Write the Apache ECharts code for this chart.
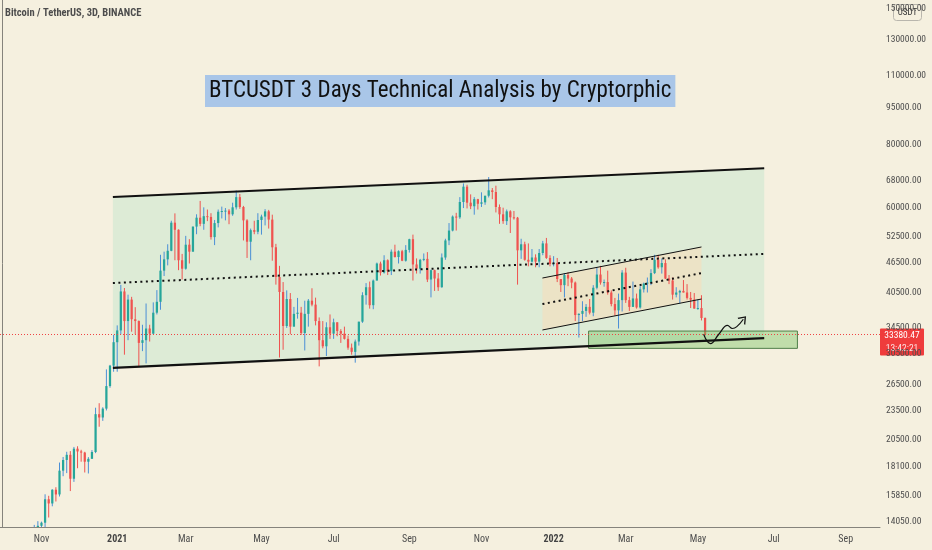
<!DOCTYPE html>
<html>
<head>
<meta charset="utf-8">
<title>BTCUSDT 3D</title>
<script src="https://cdn.jsdelivr.net/npm/echarts@6/dist/echarts.min.js"></script>
<style>
html,body{margin:0;padding:0;background:#f5f0df;}
#chart{width:932px;height:550px;}
</style>
</head>
<body>
<div id="chart"></div>
<script>
var FONT = "'Roboto Condensed','Liberation Sans Narrow','DejaVu Sans Condensed','Noto Sans Condensed',Roboto,sans-serif";

// 3 day bars, first slot of the axis starts 2020-09-29
var barStart = Date.UTC(2020, 8, 29);
var barCount = 244;
var firstCandle = 8;   // slot of the first row of ohlc
// [open, close, low, high]
var ohlc = [
	[12980,13030,12700,13350],[13030,13270,12800,13860],[13270,13800,12980,14100],[13800,14000,13200,14070],
	[14000,15600,13530,15960],[15600,15300,14340,15850],[15300,16300,15100,16340],[16300,15950,15440,16490],
	[15950,17800,15800,18480],[17800,18700,17350,18960],[18700,19150,17600,19420],[19150,17150,16200,19480],
	[17150,19700,16900,19860],[19700,19450,18000,19920],[19450,19350,18550,19600],[19350,18550,17650,19420],
	[18550,18800,17570,18950],[18800,19400,18800,19570],[19400,23100,19300,23800],[23100,22750,21800,24300],
	[22750,23700,22400,23850],[23700,26300,23500,28400],[26300,28900,26100,29000],[28900,32200,28100,33300],
	[32200,34000,28100,34800],[34000,40700,33400,41950],[40700,35500,30400,41350],[35500,39200,32500,40100],
	[39200,35800,33800,39700],[35800,35500,33400,37850],[35500,32100,28850,35600],[32100,32500,30900,34900],
	[32500,34300,29200,38500],[34300,33500,32300,34900],[33500,36900,33400,38700],[36900,38800,36600,40950],
	[38800,44800,37400,48200],[44800,47200,43700,48900],[47200,49100,45900,50600],[49100,55900,49000,56400],
	[55900,54100,47000,58350],[54100,47000,44900,54200],[47000,45200,43000,48400],[45200,50500,45000,52600],
	[50500,48900,46300,51800],[48900,54900,48900,54900],[54900,57200,53000,58100],[57200,55600,55000,61800],
	[55600,57600,54100,60000],[57600,57400,56300,59400],[57400,52300,51700,58400],[52300,55800,50400,56600],
	[55800,58800,54700,59400],[58800,59000,57000,60200],[59000,59100,56500,59800],[59100,58100,55500,59500],
	[58100,60000,57700,61300],[60000,62900,59400,64850],[62900,60100,59600,63800],[60100,56500,51500,60400],
	[56500,51200,47500,56800],[51200,54000,47000,54400],[54000,53600,53000,56400],[53600,56600,53000,58400],
	[56600,57500,52900,58000],[57500,58900,55200,59500],[58900,56700,54400,59300],[56700,49900,46900,58000],
	[49900,43500,42000,50700],[43500,40600,30000,45800],[40600,34700,31100,42500],[34700,39300,34400,40900],
	[39300,34600,33400,40400],[34600,36700,34600,37900],[36700,36900,35900,39500],[36900,33600,33300,37900],
	[33600,36700,31000,39000],[36700,39000,34600,39300],[39000,38300,38000,41300],[38300,35500,34800,39550],
	[35500,32500,28800,36100],[32500,31600,31300,35500],[31600,34500,30200,35300],[34500,33500,32700,36600],
	[33500,35300,32700,35900],[35300,33900,33100,35300],[33900,33500,32100,34200],[33500,32700,32600,34600],
	[32700,31400,31100,33200],[31400,30800,30400,32000],[30800,32300,29300,32600],[32300,35400,31700,35400],
	[35400,40000,35200,40550],[40000,41500,38300,42300],[41500,38200,37600,42600],[38200,42800,37500,43000],
	[42800,46300,42800,46500],[46300,44400,43800,46700],[44400,47000,44200,48100],[47000,44700,43900,47200],
	[44700,48900,43900,49400],[48900,47700,47600,50500],[47700,49000,46300,49200],[49000,46900,46800,49300],
	[46900,49300,46700,50400],[49300,51800,48700,51900],[51800,46100,42800,52900],[46100,45200,44200,47400],
	[45200,47100,44200,47300],[47100,47300,46800,48500],[47300,43000,42500,48800],[43000,44900,39600,45000],
	[44900,43200,40800,45000],[43200,41500,40800,44300],[41500,47600,41400,48500],[47600,51500,47100,51900],
	[51500,53900,50400,55800],[53900,57500,53700,57800],[57500,57300,53900,58500],[57300,61500,56900,62900],
	[61500,66000,59800,67000],[66000,61300,59700,66600],[61300,60300,59500,63700],[60300,62300,58000,62900],
	[62300,61000,59400,62400],[61000,61400,60100,64300],[61400,63300,60700,63300],[63300,64900,62800,69000],
	[64900,64400,62300,65600],[64400,60100,58600,66300],[60100,58100,55600,60800],[58100,56300,55600,59900],
	[56300,58900,55300,59400],[58900,57300,53300,59200],[57300,57200,56700,59000],[57200,49200,42000,57400],
	[49200,50600,47300,51900],[50600,47100,46900,51200],[47100,46700,45700,50800],[46700,47600,46500,49500],
	[47600,46700,45500,48300],[46700,48600,45500,49500],[48600,50800,48100,51400],[50800,47500,47300,52100],
	[47500,46200,45700,48100],[46200,46400,45700,47900],[46400,43100,42500,47500],[43100,41900,40600,43100],
	[41900,43900,39600,44300],[43900,43200,41700,44500],[43200,42400,41300,43500],[42400,36500,35500,42600],
	[36500,36700,32900,36800],[36700,37200,35500,38900],[37200,37900,36200,38400],[37900,36900,36600,39300],
	[36900,41400,36300,41900],[41400,44000,41100,45500],[44000,42400,42000,45800],[42400,42500,41600,43000],
	[42500,40500,40100,44800],[40500,38400,38000,40900],[38400,37300,36400,39500],[37300,39100,34300,40300],
	[39100,44400,37100,44900],[44400,39100,38600,45400],[39100,37900,37200,39700],[37900,39400,37900,42600],
	[39400,37800,37600,40300],[37800,41100,37600,41700],[41100,42200,40500,42400],[42200,42400,40500,43400],
	[42400,44300,41900,45100],[44300,47100,44100,48200],[47100,45500,45200,48200],[45500,46400,44200,47400],
	[46400,43200,43100,47200],[43200,42800,42100,43900],[42800,40100,39200,43400],[40100,40500,39600,41500],
	[40500,40800,38500,41000],[40800,40500,40500,42900],[40500,39500,39200,42100],[39500,39200,37700,40600],
	[39200,37600,37600,40400],[37600,37700,37400,39200],[37700,36000,35600,40000],[36000,33380.47,33200,36100]
];
var yTicks = [14050,15850,18100,20500,23500,26500,30500,34500,40500,46500,52500,60000,68000,80000,95000,110000,130000,150000];
var yMin = 13725, yMax = 156200;
var lastPrice = 33380.47;
var countdown = '13:42:21';

// drawings, points are [bar slot, price]
var chanTop = [[30.8, 62900], [211.4, 71900]];
var chanMid = [[30.8, 42300], [211.4, 48400]];
var chanBot = [[30.8, 28600], [211.4, 32800]];
var flagTop = [[149.9, 43300], [194.0, 49970]];
var flagMid = [[149.9, 38400], [194.0, 44300]];
var flagBot = [[149.9, 34070], [194.0, 39300]];
var zoneBox = [[162.7, 31300], [220.6, 33900]];
var pathPts = [[194.6, 33400], [196.5, 32000], [198.8, 33400], [201.2, 34800], [202.6, 34300], [203.8, 34600], [205.6, 35800]];

var monthNames = ['Jan','Feb','Mar','Apr','May','Jun','Jul','Aug','Sep','Oct','Nov','Dec'];
var cats = [], tickText = [];
for (var i = 0; i < barCount; i++) {
	var d = new Date(barStart + i * 3 * 86400000);
	cats.push(d.toISOString().slice(0, 10));
	var txt = '';
	if (i > 0) {
		var p = new Date(barStart + (i - 1) * 3 * 86400000);
		var m = d.getUTCMonth();
		if (m !== p.getUTCMonth() && m % 2 === 0) {
			txt = m === 0 ? '{y|' + d.getUTCFullYear() + '}' : monthNames[m];
		}
	}
	tickText.push(txt);
}

var candleData = ohlc.map(function (r, k) {
	return [firstCandle + k, r[0], r[1], r[2], r[3]];
});

function renderCandle(params, api) {
	var i = api.value(0), o = api.value(1), c = api.value(2), l = api.value(3), h = api.value(4);
	var pO = api.coord([i, o]), pC = api.coord([i, c]), pL = api.coord([i, l]), pH = api.coord([i, h]);
	var w = api.size([1, 0])[0] * 0.62;
	var up = c >= o;
	var x = pO[0];
	var top = Math.min(pO[1], pC[1]);
	return {
		type: 'group',
		children: [{
			type: 'line',
			shape: {x1: x, y1: pH[1], x2: x, y2: pL[1]},
			style: {stroke: up ? '#4a8fd6' : '#ef5350', lineWidth: 1}
		}, {
			type: 'rect',
			shape: {x: x - w / 2, y: top, width: w, height: Math.max(1, Math.abs(pO[1] - pC[1]))},
			style: {fill: up ? '#26a69a' : '#ef5350'}
		}]
	};
}

function bandRenderer(fill) {
	return function (params, api) {
		var a1 = api.coord([api.value(0), api.value(1)]);
		var b1 = api.coord([api.value(0), api.value(2)]);
		var a2 = api.coord([api.value(3), api.value(4)]);
		var b2 = api.coord([api.value(3), api.value(5)]);
		return {type: 'polygon', shape: {points: [a1, a2, b2, b1]}, style: {fill: fill}};
	};
}
function bandData(t, b) {
	return [[t[0][0], t[0][1], b[0][1], t[1][0], t[1][1], b[1][1]]];
}

function lineSeries(pts, width, dotted, z) {
	return {
		type: 'line', xAxisIndex: 1, yAxisIndex: 0, data: pts, symbol: 'none', silent: true, z: z || 5,
		lineStyle: {color: '#111', width: width, type: dotted ? [2, 3.5] : 'solid'},
		animation: false
	};
}

var chart = echarts.init(document.getElementById('chart'));
var option = {
	backgroundColor: '#f5f0df',
	animation: false,
	title: [{
		text: 'Bitcoin / TetherUS, 3D, BINANCE',
		left: 5, top: 8, padding: 0,
		textStyle: {fontSize: 10.5, fontWeight: 'bold', color: '#4d4d4d', fontFamily: FONT}
	}, {
		text: 'BTCUSDT 3 Days Technical Analysis by Cryptorphic',
		left: 205, top: 75, padding: [4, 4, 3, 4],
		backgroundColor: '#a9c6e8',
		textStyle: {fontSize: 23, lineHeight: 25, fontWeight: 'normal', color: '#111', fontFamily: FONT}
	}],
	grid: {left: 0, right: 52, top: 0, bottom: 23, containLabel: false},
	xAxis: [{
		type: 'category',
		data: cats,
		boundaryGap: true,
		axisLine: {lineStyle: {color: '#85837c', width: 1}},
		axisTick: {show: false},
		splitLine: {show: false},
		axisLabel: {
			interval: function (idx) { return tickText[idx] !== ''; },
			formatter: function (v, idx) { return tickText[idx]; },
			color: '#4d4d4d', fontSize: 10, fontFamily: FONT, margin: 7,
			rich: {y: {fontWeight: 'bold', color: '#444', fontSize: 10, fontFamily: FONT}}
		}
	}, {
		type: 'value', min: -0.5, max: barCount - 0.5, show: false
	}],
	yAxis: [{
		type: 'log', logBase: 10, min: yMin, max: yMax, position: 'right',
		axisLine: {show: true, lineStyle: {color: '#85837c', width: 1}},
		axisTick: {show: false},
		splitLine: {show: false},
		axisLabel: {
			customValues: yTicks,
			formatter: function (v) { return Number(v).toFixed(2); },
			color: '#4d4d4d', fontSize: 9.5, fontFamily: FONT, margin: 6
		}
	}],
	series: [{
		type: 'custom', xAxisIndex: 1, yAxisIndex: 0, z: 1, silent: true,
		renderItem: bandRenderer('#ddebd6'),
		data: bandData(chanTop, chanBot), encode: {x: [0, 3], y: [1, 2, 4, 5]}
	}, {
		type: 'custom', xAxisIndex: 1, yAxisIndex: 0, z: 2, silent: true,
		renderItem: bandRenderer('#ece3c6'),
		data: bandData(flagTop, flagBot), encode: {x: [0, 3], y: [1, 2, 4, 5]}
	}, {
		type: 'custom', xAxisIndex: 0, yAxisIndex: 0, z: 3, clip: true,
		renderItem: renderCandle,
		data: candleData, encode: {x: 0, y: [1, 2, 3, 4]},
		markLine: {
			silent: true, symbol: 'none', label: {show: false},
			lineStyle: {color: '#ef4444', type: [1, 2], width: 1},
			data: [{yAxis: lastPrice}]
		}
	}, {
		type: 'custom', xAxisIndex: 1, yAxisIndex: 0, z: 4, silent: true,
		renderItem: function (params, api) {
			var a = api.coord([api.value(0), api.value(3)]);
			var b = api.coord([api.value(2), api.value(1)]);
			return {
				type: 'rect',
				shape: {x: a[0], y: a[1], width: b[0] - a[0], height: b[1] - a[1]},
				style: {fill: 'rgba(120,196,98,0.42)', stroke: '#4f7e48', lineWidth: 1}
			};
		},
		data: [[zoneBox[0][0], zoneBox[0][1], zoneBox[1][0], zoneBox[1][1]]],
		encode: {x: [0, 2], y: [1, 3]}
	},
		lineSeries(chanTop, 2, false, 6),
		lineSeries(chanMid, 2, true, 6),
		lineSeries(chanBot, 2.2, false, 6),
		lineSeries(flagTop, 1, false, 6),
		lineSeries(flagMid, 2, true, 6),
		lineSeries(flagBot, 1, false, 6),
	{
		type: 'line', xAxisIndex: 1, yAxisIndex: 0, z: 7, silent: true, smooth: 0.45,
		symbol: 'none', showAllSymbol: true,
		lineStyle: {color: '#111', width: 1.2},
		data: pathPts.map(function (p, k) {
			if (k < pathPts.length - 1) return p;
			return {
				value: p, symbol: 'path://M0,10 L6,0 L12,10', symbolSize: [9, 6], symbolRotate: -42,
				itemStyle: {color: 'none', borderColor: '#111', borderWidth: 1.2}
			};
		})
	}]
};
chart.setOption(option);

// price tag and currency badge on the price scale
var py = chart.convertToPixel({yAxisIndex: 0}, lastPrice);
chart.setOption({
	graphic: [{
		type: 'group', left: 880, top: py - 6, z: 100,
		children: [{
			type: 'rect', shape: {x: 0, y: 0, width: 44, height: 27, r: 1},
			style: {fill: '#ef3c3c'}
		}, {
			type: 'text', x: 22, y: 7,
			style: {text: lastPrice.toFixed(2), fill: '#fff', font: '9.5px ' + FONT, align: 'center', verticalAlign: 'middle'}
		}, {
			type: 'text', x: 22, y: 20,
			style: {text: countdown, fill: '#fde3e3', font: '9.5px ' + FONT, align: 'center', verticalAlign: 'middle'}
		}]
	}, {
		type: 'group', left: 893, top: 4, z: 100,
		children: [{
			type: 'rect', shape: {x: 0, y: 0, width: 28, height: 16, r: 3},
			style: {fill: '#f5f0df', stroke: '#b9b6ad', lineWidth: 1}
		}, {
			type: 'text', x: 14, y: 8,
			style: {text: 'USDT', fill: '#333', font: '9px ' + FONT, align: 'center', verticalAlign: 'middle'}
		}]
	}]
});
</script>
</body>
</html>
